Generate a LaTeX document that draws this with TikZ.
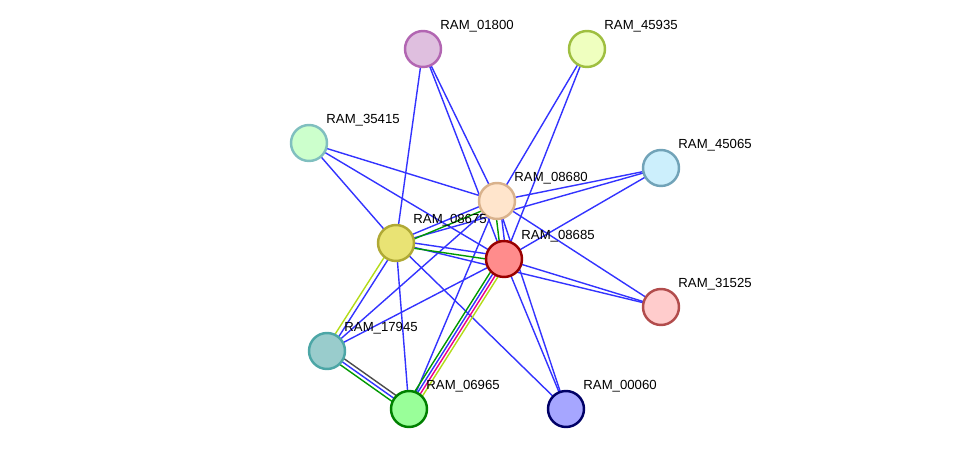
\documentclass[tikz,border=0pt]{standalone}
\usepackage{fontspec}
\setsansfont{Liberation Sans}
\begin{document}
\begin{tikzpicture}[x=0.02cm,y=-0.02cm,thick,
    prot/.style={circle,draw,line width=1.4pt,minimum size=0.72cm,inner sep=0pt},
    lbl/.style={font=\sffamily\fontsize{7.5}{8}\selectfont,anchor=south west,inner sep=1pt},
    link/.style={blue!80!white,line width=0.8pt}]
\useasboundingbox (0,0) rectangle (975,455);

% links first, nodes on top
\coordinate (c01800) at (423,49);
\coordinate (c45935) at (587,49);
\coordinate (c35415) at (309,143);
\coordinate (c45065) at (661,168);
\coordinate (c08680) at (497,201);
\coordinate (c08675) at (396,243);
\coordinate (c08685) at (504,259);
\coordinate (c31525) at (661,307);
\coordinate (c17945) at (327,351);
\coordinate (c06965) at (409,409);
\coordinate (c00060) at (566,409);

\foreach \a/\b in {01800/08675,01800/08680,01800/08685,45935/08680,45935/08685,
    35415/08675,35415/08680,35415/08685,45065/08680,45065/08685,45065/08675,
    31525/08680,31525/08685,31525/08675,17945/08680,17945/08685,
    06965/08675,06965/08680,00060/08675,00060/08680,00060/08685}
  \draw[link] (c\a) -- (c\b);

% multi-evidence links
\draw[link,green!60!black] ([yshift=-2]c08675) -- ([yshift=-2]c08680);
\draw[link] ([yshift=1]c08675) -- ([yshift=1]c08680);
\draw[link,green!60!black] ([yshift=-1.5]c08675) -- ([yshift=-1.5]c08685);
\draw[link] ([yshift=1.5]c08675) -- ([yshift=1.5]c08685);
\draw[link,green!60!black] ([xshift=-1.5]c08680) -- ([xshift=-1.5]c08685);
\draw[link] ([xshift=1.5]c08680) -- ([xshift=1.5]c08685);
\draw[link,yellow!70!green] ([xshift=-1.5]c08675) -- ([xshift=-1.5]c17945);
\draw[link] ([xshift=1.5]c08675) -- ([xshift=1.5]c17945);
\draw[link,green!60!black] ([yshift=-2.5]c17945) -- ([yshift=-2.5]c06965);
\draw[link] (c17945) -- (c06965);
\draw[link,black!70] ([yshift=2.5]c17945) -- ([yshift=2.5]c06965);
\draw[link,green!60!black] ([xshift=-3]c06965) -- ([xshift=-3]c08685);
\draw[link] ([xshift=-1]c06965) -- ([xshift=-1]c08685);
\draw[link,magenta] ([xshift=1]c06965) -- ([xshift=1]c08685);
\draw[link,yellow!70!green] ([xshift=3]c06965) -- ([xshift=3]c08685);

\node[prot,draw=violet!60,fill=violet!25] (n01800) at (c01800) {};
\node[prot,draw=lime!50!gray,fill=lime!25] (n45935) at (c45935) {};
\node[prot,draw=teal!50,fill=green!20] (n35415) at (c35415) {};
\node[prot,draw=cyan!40!gray,fill=cyan!20] (n45065) at (c45065) {};
\node[prot,draw=brown!60,fill=orange!20] (n08680) at (c08680) {};
\node[prot,draw=olive!70,fill=olive!40!yellow!50] (n08675) at (c08675) {};
\node[prot,draw=red!60!black,fill=red!45] (n08685) at (c08685) {};
\node[prot,draw=red!40!gray,fill=red!20] (n31525) at (c31525) {};
\node[prot,draw=teal!70,fill=teal!40] (n17945) at (c17945) {};
\node[prot,draw=green!50!black,fill=green!40] (n06965) at (c06965) {};
\node[prot,draw=blue!40!black,fill=blue!35] (n00060) at (c00060) {};

\node[lbl] at (438,35) {RAM\_01800};
\node[lbl] at (602,35) {RAM\_45935};
\node[lbl] at (324,129) {RAM\_35415};
\node[lbl] at (676,154) {RAM\_45065};
\node[lbl] at (512,187) {RAM\_08680};
\node[lbl] at (411,229) {RAM\_08675};
\node[lbl] at (519,245) {RAM\_08685};
\node[lbl] at (676,293) {RAM\_31525};
\node[lbl] at (342,337) {RAM\_17945};
\node[lbl] at (424,395) {RAM\_06965};
\node[lbl] at (581,395) {RAM\_00060};
\end{tikzpicture}
\end{document}
